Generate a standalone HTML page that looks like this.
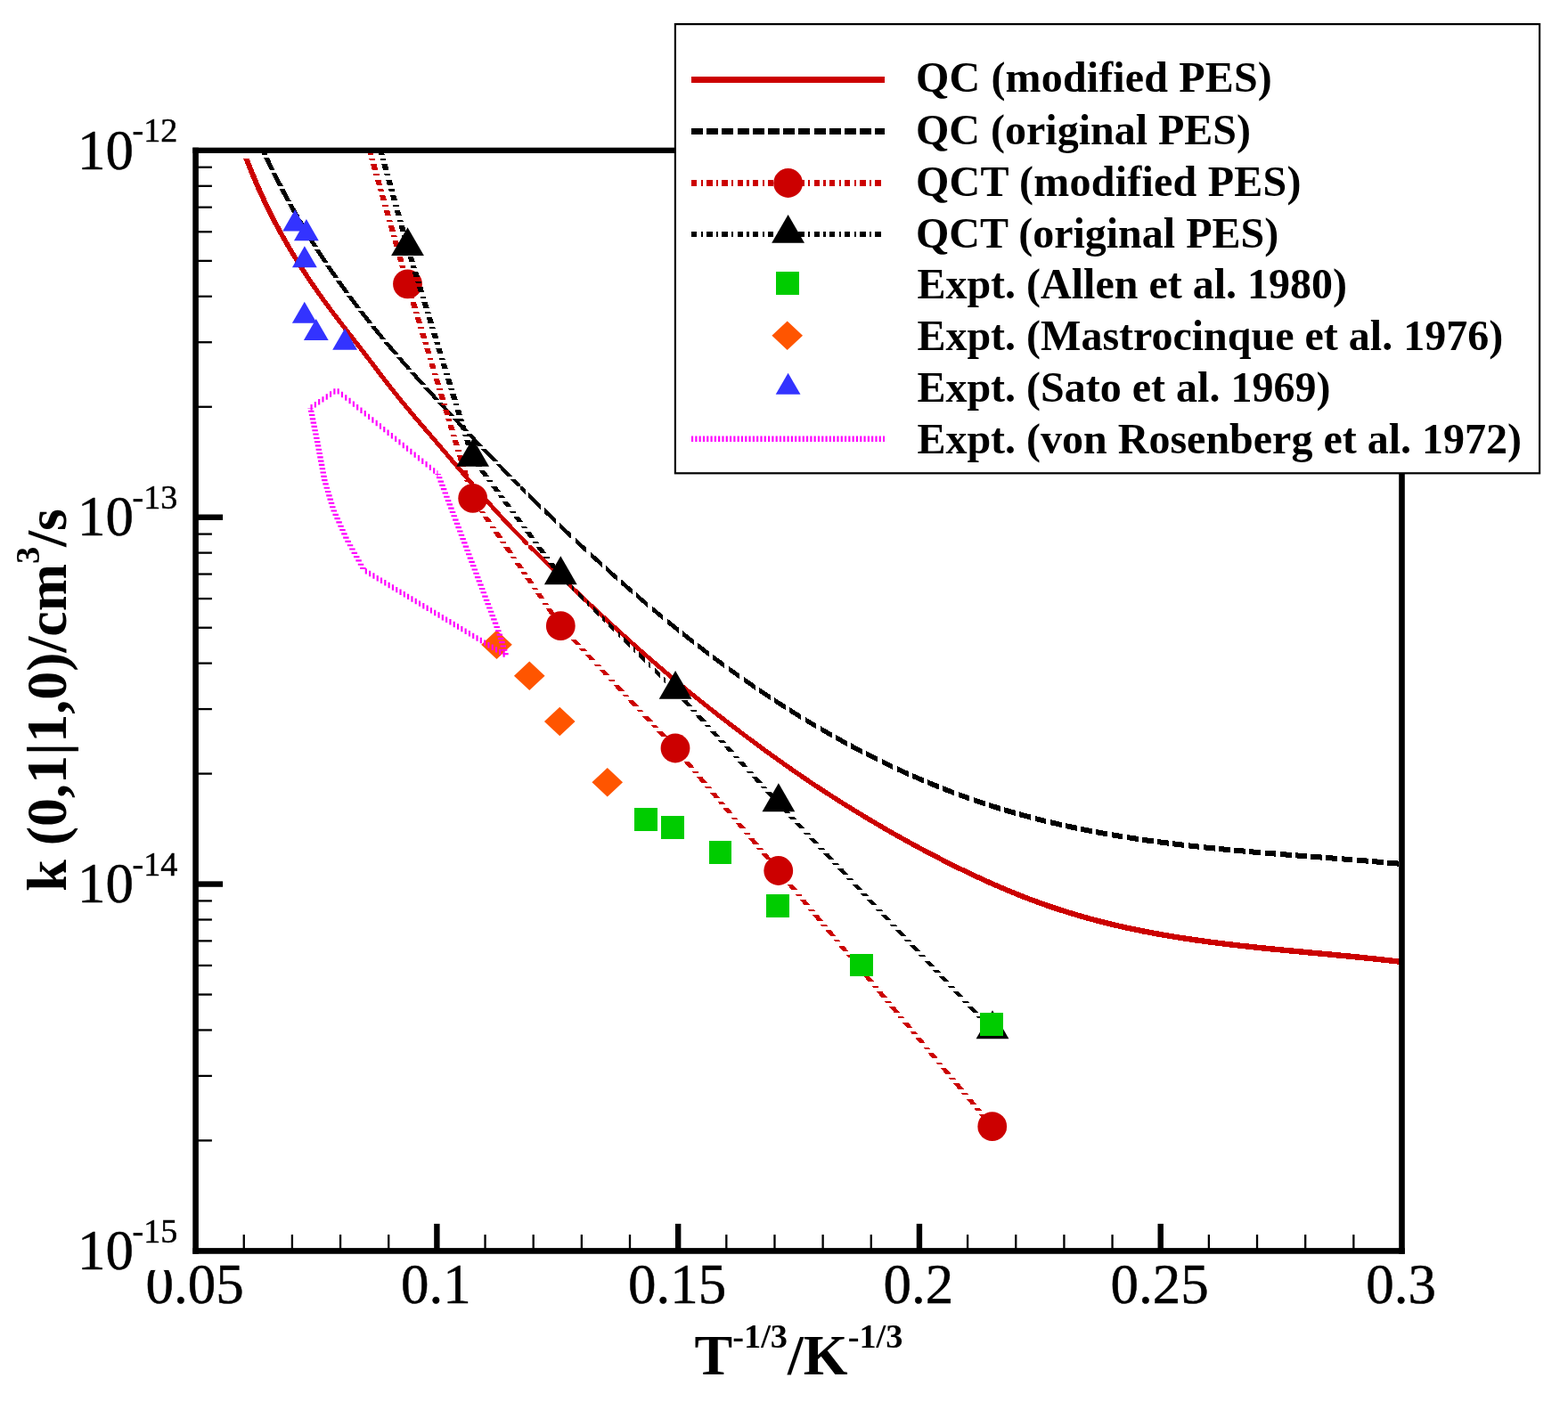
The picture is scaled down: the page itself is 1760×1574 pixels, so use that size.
<!DOCTYPE html>
<html lang="en">
<head>
<meta charset="utf-8">
<title>k (0,1|1,0) rate coefficients</title>
<style>
html,body{margin:0;padding:0;background:#fff;}
body{width:1760px;height:1574px;overflow:hidden;}
svg{display:block;}
text{white-space:pre;}
</style>
</head>
<body>
<svg width="1760" height="1574" viewBox="0 0 1760 1574" role="img" aria-label="Rate coefficient k(0,1|1,0) versus inverse cube root of temperature">
<defs><clipPath id="plotclip"><rect x="219.6" y="168.9" width="1353.9" height="1235.5"/></clipPath></defs>
<rect width="1760" height="1574" fill="#ffffff"/>
<g shape-rendering="crispEdges">
<path d="M273.02,177.53L278.04,190.26L284.5,190.26L279.48,177.53ZM278.04,190.26L283.29,202.89L289.75,202.89L284.5,190.26ZM283.29,202.89L288.78,215.42L295.24,215.42L289.75,202.89ZM288.78,215.42L294.54,227.83L301,227.83L295.24,215.42ZM294.54,227.83L300.57,240.12L307.03,240.12L301,227.83ZM300.57,240.12L306.88,252.29L313.33,252.29L307.03,240.12ZM306.88,252.29L313.44,264.33L319.9,264.33L313.33,252.29ZM313.44,264.33L320.28,276.26L326.74,276.26L319.9,264.33ZM320.28,276.26L327.38,288.08L333.83,288.08L326.74,276.26ZM327.38,288.08L334.69,299.77L341.14,299.77L333.83,288.08ZM334.69,299.77L342.21,311.33L348.67,311.33L341.14,299.77ZM342.21,311.33L349.96,322.76L356.42,322.76L348.67,311.33ZM349.96,322.76L357.94,334.06L364.39,334.06L356.42,322.76ZM357.94,334.06L366.09,345.24L372.55,345.24L364.39,334.06ZM366.09,345.24L374.44,356.32L380.89,356.32L372.55,345.24ZM374.44,356.32L382.94,367.34L389.39,367.34L380.89,356.32ZM382.94,367.34L391.51,378.35L397.97,378.35L389.39,367.34ZM391.51,378.35L400.13,389.4L406.59,389.4L397.97,378.35ZM400.13,389.4L408.73,400.52L415.19,400.52L406.59,389.4ZM408.73,400.52L417.25,411.7L423.71,411.7L415.19,400.52ZM417.25,411.7L425.72,422.83L432.18,422.83L423.71,411.7ZM425.72,422.83L434.22,433.84L440.68,433.84L432.18,422.83ZM434.22,433.84L442.84,444.68L449.3,444.68L440.68,433.84ZM442.84,444.68L451.64,455.42L458.1,455.42L449.3,444.68ZM451.64,455.42L460.59,466.07L467.05,466.07L458.1,455.42ZM460.59,466.07L469.64,476.68L476.1,476.68L467.05,466.07ZM469.64,476.68L478.76,487.27L485.22,487.27L476.1,476.68ZM478.76,487.27L487.9,497.89L494.36,497.89L485.22,487.27ZM487.9,497.89L497.02,508.55L503.48,508.55L494.36,497.89ZM497.02,508.55L506.1,519.21L512.55,519.21L503.48,508.55ZM506.1,519.21L515.18,529.86L521.63,529.86L512.55,519.21ZM515.18,529.86L524.28,540.47L530.74,540.47L521.63,529.86ZM524.28,540.47L533.41,551.03L539.87,551.03L530.74,540.47ZM533.41,551.03L542.6,561.52L549.05,561.52L539.87,551.03ZM542.6,561.52L551.87,571.91L558.32,571.91L549.05,561.52ZM551.87,571.91L561.25,582.18L567.7,582.18L558.32,571.91ZM561.25,582.18L570.75,592.31L577.2,592.31L567.7,582.18ZM570.75,592.31L580.39,602.31L586.85,602.31L577.2,592.31ZM580.39,602.31L590.18,612.21L596.63,612.21L586.85,602.31ZM593.41,608.99L603.3,618.8L603.3,625.25L593.41,615.44ZM603.3,618.8L613.28,628.56L613.28,635.01L603.3,625.25ZM613.28,628.56L623.32,638.29L623.32,644.75L613.28,635.01ZM623.32,638.29L633.38,647.99L633.38,654.44L623.32,644.75ZM633.38,647.99L643.48,657.64L643.48,664.1L633.38,654.44ZM643.48,657.64L653.62,667.26L653.62,673.72L643.48,664.1ZM653.62,667.26L663.79,676.85L663.79,683.3L653.62,673.72ZM663.79,676.85L674,686.38L674,692.83L663.79,683.3ZM674,686.38L684.26,695.86L684.26,702.31L674,692.83ZM684.26,695.86L694.57,705.28L694.57,711.74L684.26,702.31ZM694.57,705.28L704.92,714.64L704.92,721.1L694.57,711.74ZM704.92,714.64L715.34,723.94L715.34,730.39L704.92,721.1ZM715.34,723.94L725.81,733.18L725.81,739.63L715.34,730.39ZM725.81,733.18L736.34,742.33L736.34,748.78L725.81,739.63ZM736.34,742.33L746.94,751.41L746.94,757.87L736.34,748.78ZM746.94,751.41L757.61,760.4L757.61,766.86L746.94,757.87ZM757.61,760.4L768.35,769.3L768.35,775.75L757.61,766.86ZM768.35,769.3L779.16,778.13L779.16,784.59L768.35,775.75ZM779.16,778.13L790.05,786.88L790.05,793.33L779.16,784.59ZM790.05,786.88L800.99,795.53L800.99,801.99L790.05,793.33ZM800.99,795.53L812.01,804.12L812.01,810.57L800.99,801.99ZM812.01,804.12L823.08,812.62L823.08,819.08L812.01,810.57ZM823.08,812.62L834.21,821.05L834.21,827.5L823.08,819.08ZM834.21,821.05L845.39,829.41L845.39,835.87L834.21,827.5ZM845.39,829.41L856.63,837.7L856.63,844.15L845.39,835.87ZM856.63,837.7L867.93,845.9L867.93,852.36L856.63,844.15ZM867.93,845.9L879.3,854.01L879.3,860.47L867.93,852.36ZM879.3,854.01L890.73,862.02L890.73,868.48L879.3,860.47ZM890.73,862.02L902.22,869.93L902.22,876.38L890.73,868.48ZM902.22,869.93L913.8,877.73L913.8,884.18L902.22,876.38ZM913.8,877.73L925.45,885.41L925.45,891.87L913.8,884.18ZM925.45,885.41L937.17,893L937.17,899.45L925.45,891.87ZM937.17,893L948.96,900.45L948.96,906.9L937.17,899.45ZM948.96,900.45L960.83,907.8L960.83,914.25L948.96,906.9ZM960.83,907.8L972.76,915.04L972.76,921.5L960.83,914.25ZM972.76,915.04L984.77,922.16L984.77,928.62L972.76,921.5ZM984.77,922.16L996.84,929.17L996.84,935.62L984.77,928.62ZM996.84,929.17L1008.99,936.06L1008.99,942.51L996.84,935.62ZM1008.99,936.06L1021.2,942.83L1021.2,949.28L1008.99,942.51ZM1021.2,942.83L1033.47,949.49L1033.47,955.94L1021.2,949.28ZM1033.47,949.49L1045.82,956.01L1045.82,962.47L1033.47,955.94ZM1045.82,956.01L1058.22,962.42L1058.22,968.88L1045.82,962.47ZM1058.22,962.42L1070.69,968.7L1070.69,975.15L1058.22,968.88ZM1070.69,968.7L1083.23,974.85L1083.23,981.3L1070.69,975.15ZM1083.23,974.85L1095.84,980.82L1095.84,987.27L1083.23,981.3ZM1095.84,980.82L1108.53,986.63L1108.53,993.09L1095.84,987.27ZM1108.53,986.63L1121.3,992.26L1121.3,998.72L1108.53,993.09ZM1121.3,992.26L1134.15,997.68L1134.15,1004.13L1121.3,998.72ZM1134.15,997.68L1147.09,1002.9L1147.09,1009.36L1134.15,1004.13ZM1147.09,1002.9L1160.12,1007.88L1160.12,1014.34L1147.09,1009.36ZM1160.12,1007.88L1173.25,1012.62L1173.25,1019.08L1160.12,1014.34ZM1173.25,1012.62L1186.46,1017.11L1186.46,1023.56L1173.25,1019.08ZM1186.46,1017.11L1199.76,1021.34L1199.76,1027.79L1186.46,1023.56ZM1199.76,1021.34L1213.14,1025.34L1213.14,1031.78L1199.76,1027.79ZM1213.14,1025.34L1226.59,1029.09L1226.59,1035.53L1213.14,1031.78ZM1226.59,1029.09L1240.11,1032.6L1240.11,1039.04L1226.59,1035.53ZM1240.11,1032.6L1253.69,1035.88L1253.69,1042.32L1240.11,1039.04ZM1253.69,1035.88L1267.32,1038.95L1267.32,1045.39L1253.69,1042.32ZM1267.32,1038.95L1281.01,1041.79L1281.01,1048.23L1267.32,1045.39ZM1281.01,1041.79L1294.73,1044.44L1294.73,1050.88L1281.01,1048.23ZM1294.73,1044.44L1308.5,1046.89L1308.5,1053.34L1294.73,1050.88ZM1308.5,1046.89L1322.3,1049.18L1322.3,1055.62L1308.5,1053.34ZM1322.3,1049.18L1336.12,1051.3L1336.12,1057.74L1322.3,1055.62ZM1336.12,1051.3L1349.97,1053.27L1349.97,1059.71L1336.12,1057.74ZM1349.97,1053.27L1363.84,1055.1L1363.84,1061.54L1349.97,1059.71ZM1363.84,1055.1L1377.73,1056.81L1377.73,1063.25L1363.84,1061.54ZM1377.73,1056.81L1391.63,1058.42L1391.63,1064.87L1377.73,1063.25ZM1391.63,1058.42L1405.55,1059.94L1405.55,1066.38L1391.63,1064.87ZM1405.55,1059.94L1419.47,1061.38L1419.47,1067.82L1405.55,1066.38ZM1419.47,1061.38L1433.4,1062.76L1433.4,1069.2L1419.47,1067.82ZM1433.4,1062.76L1447.33,1064.1L1447.33,1070.54L1433.4,1069.2ZM1447.33,1064.1L1461.27,1065.39L1461.27,1071.84L1447.33,1070.54ZM1461.27,1065.39L1475.21,1066.7L1475.21,1073.14L1461.27,1071.84ZM1475.21,1066.7L1489.15,1067.99L1489.15,1074.43L1475.21,1073.14ZM1489.15,1067.99L1503.09,1069.31L1503.09,1075.75L1489.15,1074.43ZM1503.09,1069.31L1517.03,1070.64L1517.03,1077.09L1503.09,1075.75ZM1517.03,1070.64L1530.96,1072.05L1530.96,1078.49L1517.03,1077.09ZM1530.96,1072.05L1544.89,1073.5L1544.89,1079.94L1530.96,1078.49ZM1544.89,1073.5L1558.81,1075.04L1558.81,1081.48L1544.89,1079.94ZM1558.81,1075.04L1572.72,1076.67L1572.72,1083.12L1558.81,1081.48ZM1572.72,1076.67L1573.5,1076.77L1573.5,1083.21L1572.72,1083.12Z" fill="#cc0000" clip-path="url(#plotclip)"/>
<path d="M287.88,160L294.6,173.97L300.4,173.97L293.68,160ZM294.6,173.97L294.7,174.19L300.51,174.19L300.4,173.97ZM296.15,177.2L300.59,186.42L306.39,186.42L301.96,177.2ZM300.59,186.42L303.06,191.39L308.87,191.39L306.39,186.42ZM304.56,194.4L306.75,198.79L312.55,198.79L310.37,194.4ZM306.75,198.79L311.8,208.59L317.61,208.59L312.55,198.79ZM313.36,211.6L319.57,223.25L325.37,223.25L319.17,211.6ZM319.57,223.25L320.97,225.79L326.77,225.79L325.37,223.25ZM322.63,228.8L326.25,235.35L332.05,235.35L328.44,228.8ZM326.25,235.35L330.61,242.99L336.42,242.99L332.05,235.35ZM332.33,246L333.1,247.34L338.9,247.34L338.14,246ZM333.1,247.34L340.14,259.23L345.94,259.23L338.9,247.34ZM340.14,259.23L340.73,260.19L346.53,260.19L345.94,259.23ZM342.57,263.2L347.36,271.01L353.16,271.01L348.38,263.2ZM347.36,271.01L351.41,277.39L357.22,277.39L353.16,271.01ZM353.32,280.4L354.78,282.69L360.58,282.69L359.13,280.4ZM354.78,282.69L362.37,294.25L368.17,294.25L360.58,282.69ZM362.37,294.25L362.6,294.59L368.4,294.59L368.17,294.25ZM364.65,297.6L370.15,305.69L375.95,305.69L370.45,297.6ZM370.15,305.69L374.43,311.79L380.23,311.79L375.95,305.69ZM376.54,314.8L378.11,317.03L383.91,317.03L382.35,314.8ZM378.11,317.03L386.24,328.26L392.04,328.26L383.91,317.03ZM386.24,328.26L386.78,328.99L392.59,328.99L392.04,328.26ZM389.02,332L394.53,339.39L400.33,339.39L394.83,332ZM394.53,339.39L399.73,346.19L405.54,346.19L400.33,339.39ZM402.04,349.2L402.96,350.4L408.76,350.4L407.84,349.2ZM402.96,350.4L411.55,361.32L417.35,361.32L408.76,350.4ZM411.55,361.32L413.22,363.39L419.02,363.39L417.35,361.32ZM415.65,366.4L420.27,372.13L426.07,372.13L421.45,366.4ZM420.27,372.13L427.27,380.59L433.07,380.59L426.07,372.13ZM429.77,383.6L438.11,393.46L443.91,393.46L435.58,383.6ZM438.11,393.46L441.85,397.79L447.65,397.79L443.91,393.46ZM444.44,400.8L447.21,404L453.01,404L450.25,400.8ZM447.21,404L456.41,414.45L462.21,414.45L453.01,404ZM456.41,414.45L456.89,414.99L462.7,414.99L462.21,414.45ZM459.59,418L465.71,424.84L471.51,424.84L465.39,418ZM465.71,424.84L472.39,432.19L478.19,432.19L471.51,424.84ZM475.12,435.2L484.53,445.44L490.33,445.44L480.93,435.2ZM484.53,445.44L488.18,449.39L493.99,449.39L490.33,445.44ZM490.97,452.4L494.02,455.69L499.82,455.69L496.78,452.4ZM494.02,455.69L503.56,465.91L509.36,465.91L499.82,455.69ZM503.56,465.91L504.2,466.59L510,466.59L509.36,465.91ZM507.02,469.6L513.12,476.1L518.92,476.1L512.82,469.6ZM513.12,476.1L520.39,483.79L526.2,483.79L518.92,476.1ZM523.24,486.8L532.36,496.37L538.16,496.37L529.05,486.8ZM532.36,496.37L536.79,500.99L542.6,500.99L538.16,496.37ZM539.68,504L542.04,506.45L547.84,506.45L545.49,504ZM542.04,506.45L551.75,516.49L557.55,516.49L547.84,506.45ZM551.75,516.49L553.41,518.19L559.21,518.19L557.55,516.49ZM556.34,521.2L561.51,526.49L567.31,526.49L562.15,521.2ZM561.51,526.49L570.26,535.39L576.07,535.39L567.31,526.49ZM573.24,538.4L581.15,546.36L586.95,546.36L579.05,538.4ZM584.05,543.46L590.28,549.67L590.28,555.48L584.05,549.26ZM593.29,552.68L593.93,553.32L593.93,559.12L593.29,558.48Z" fill="#000000" clip-path="url(#plotclip)"/>
<path d="M593.93,553.17L603.87,562.99L603.87,569.09L593.93,559.27ZM603.87,562.99L606.83,565.89L606.83,571.99L603.87,569.09ZM611.13,570.1L613.85,572.76L613.85,578.86L611.13,576.2ZM613.85,572.76L623.88,582.48L623.88,588.58L613.85,578.86ZM623.88,582.48L624.03,582.62L624.03,588.72L623.88,588.58ZM628.33,586.74L633.96,592.14L633.96,598.24L628.33,592.84ZM633.96,592.14L641.23,599.04L641.23,605.14L633.96,598.24ZM645.53,603.1L654.28,611.3L654.28,617.4L645.53,609.2ZM654.28,611.3L658.43,615.14L658.43,621.24L654.28,617.4ZM662.73,619.12L664.52,620.78L664.52,626.88L662.73,625.22ZM664.52,620.78L674.82,630.21L674.82,636.31L664.52,626.88ZM674.82,630.21L675.63,630.94L675.63,637.04L674.82,636.31ZM679.93,634.82L685.18,639.56L685.18,645.66L679.93,640.92ZM685.18,639.56L692.83,646.38L692.83,652.48L685.18,645.66ZM697.13,650.19L706.08,658.06L706.08,664.16L697.13,656.29ZM706.08,658.06L710.03,661.48L710.03,667.58L706.08,664.16ZM714.33,665.21L716.63,667.2L716.63,673.3L714.33,671.31ZM716.63,667.2L727.23,676.24L727.23,682.34L716.63,673.3ZM731.53,679.85L737.93,685.23L737.93,691.33L731.53,685.95ZM737.93,685.23L744.43,690.6L744.43,696.7L737.93,691.33ZM748.73,694.15L759.52,702.92L759.52,709.02L748.73,700.25ZM759.52,702.92L761.63,704.6L761.63,710.7L759.52,709.02ZM765.93,708.04L770.42,711.62L770.42,717.72L765.93,714.14ZM770.42,711.62L778.83,718.21L778.83,724.31L770.42,717.72ZM783.13,721.56L792.46,728.73L792.46,734.83L783.13,727.66ZM792.46,728.73L796.03,731.42L796.03,737.52L792.46,734.83ZM800.33,734.66L803.6,737.13L803.6,743.23L800.33,740.76ZM803.6,737.13L813.23,744.24L813.23,750.34L803.6,743.23ZM817.53,747.37L826.13,753.57L826.13,759.67L817.53,753.47ZM826.13,753.57L830.43,756.61L830.43,762.71L826.13,759.67ZM834.73,759.65L837.52,761.62L837.52,767.72L834.73,765.75ZM837.52,761.62L847.63,768.61L847.63,774.71L837.52,767.72ZM851.93,771.53L860.56,777.35L860.56,783.45L851.93,777.63ZM860.56,777.35L864.83,780.16L864.83,786.26L860.56,783.45ZM869.13,783L872.2,785.02L872.2,791.12L869.13,789.1ZM872.2,785.02L882.03,791.33L882.03,797.43L872.2,791.12ZM886.33,794.06L895.76,799.97L895.76,806.07L886.33,800.16ZM895.76,799.97L899.23,802.09L899.23,808.19L895.76,806.07ZM903.53,804.71L907.67,807.23L907.67,813.33L903.53,810.81ZM907.67,807.23L916.43,812.43L916.43,818.53L907.67,813.33ZM920.73,814.96L931.75,821.32L931.75,827.42L920.73,821.06ZM931.75,821.32L933.63,822.37L933.63,828.47L931.75,827.42ZM937.93,824.78L943.92,828.13L943.92,834.23L937.93,830.88ZM943.92,828.13L950.83,831.88L950.83,837.98L943.92,834.23ZM955.13,834.22L956.18,834.79L956.18,840.89L955.13,840.32ZM956.18,834.79L968.03,841.03L968.03,847.13L956.18,840.89ZM972.33,843.23L980.96,847.62L980.96,853.72L972.33,849.33ZM980.96,847.62L985.23,849.72L985.23,855.82L980.96,853.72ZM989.53,851.84L993.48,853.78L993.48,859.88L989.53,857.94ZM993.48,853.78L1002.43,858.03L1002.43,864.13L993.48,859.88ZM1006.73,860.06L1018.77,865.56L1018.77,871.66L1006.73,866.16ZM1018.77,865.56L1019.63,865.94L1019.63,872.04L1018.77,871.66ZM1023.93,867.83L1031.55,871.18L1031.55,877.28L1023.93,873.93ZM1031.55,871.18L1036.83,873.41L1036.83,879.51L1031.55,877.28ZM1041.13,875.23L1044.4,876.61L1044.4,882.71L1041.13,881.33ZM1044.4,876.61L1054.03,880.5L1054.03,886.6L1044.4,882.71ZM1058.33,882.22L1070.36,886.88L1070.36,892.98L1058.33,888.32ZM1070.36,886.88L1071.23,887.2L1071.23,893.3L1070.36,892.98ZM1075.53,888.79L1083.45,891.71L1083.45,897.81L1075.53,894.89ZM1083.45,891.71L1088.43,893.46L1088.43,899.56L1083.45,897.81ZM1092.73,894.96L1096.63,896.33L1096.63,902.43L1092.73,901.06ZM1096.63,896.33L1105.63,899.33L1105.63,905.43L1096.63,902.43ZM1109.93,900.76L1122.83,904.83L1122.83,910.93L1109.93,906.86ZM1127.13,906.11L1136.58,908.92L1136.58,915.02L1127.13,912.21ZM1136.58,908.92L1140.03,909.89L1140.03,915.99L1136.58,915.02ZM1144.33,911.1L1150.03,912.7L1150.03,918.8L1144.33,917.2ZM1150.03,912.7L1157.23,914.6L1157.23,920.7L1150.03,918.8ZM1161.53,915.74L1163.53,916.27L1163.53,922.37L1161.53,921.84ZM1163.53,916.27L1174.43,918.99L1174.43,925.09L1163.53,922.37ZM1178.73,920.03L1190.7,922.84L1190.7,928.94L1178.73,926.13ZM1190.7,922.84L1191.63,923.04L1191.63,929.14L1190.7,928.94ZM1195.93,923.99L1204.36,925.84L1204.36,931.94L1195.93,930.09ZM1204.36,925.84L1208.83,926.76L1208.83,932.86L1204.36,931.94ZM1213.13,927.65L1218.05,928.66L1218.05,934.76L1213.13,933.75ZM1218.05,928.66L1226.03,930.2L1226.03,936.3L1218.05,934.76ZM1230.33,931.03L1231.78,931.31L1231.78,937.41L1230.33,937.13ZM1231.78,931.31L1243.23,933.37L1243.23,939.47L1231.78,937.41ZM1247.53,934.13L1259.33,936.12L1259.33,942.22L1247.53,940.23ZM1259.33,936.12L1260.43,936.29L1260.43,942.39L1259.33,942.22ZM1264.73,936.97L1273.15,938.3L1273.15,944.4L1264.73,943.07ZM1273.15,938.3L1277.63,938.96L1277.63,945.06L1273.15,944.4ZM1281.93,939.6L1286.99,940.35L1286.99,946.45L1281.93,945.7ZM1286.99,940.35L1294.83,941.43L1294.83,947.53L1286.99,946.45ZM1299.13,942.02L1300.85,942.26L1300.85,948.36L1299.13,948.12ZM1300.85,942.26L1312.03,943.69L1312.03,949.79L1300.85,948.36ZM1316.33,944.23L1328.62,945.72L1328.62,951.82L1316.33,950.33ZM1328.62,945.72L1329.23,945.79L1329.23,951.89L1328.62,951.82ZM1333.53,946.27L1342.53,947.29L1342.53,953.39L1333.53,952.37ZM1342.53,947.29L1346.43,947.7L1346.43,953.8L1342.53,953.39ZM1350.73,948.16L1356.44,948.77L1356.44,954.87L1350.73,954.26ZM1356.44,948.77L1363.63,949.49L1363.63,955.59L1356.44,954.87ZM1367.93,949.92L1370.37,950.16L1370.37,956.26L1367.93,956.02ZM1370.37,950.16L1380.83,951.15L1380.83,957.25L1370.37,956.26ZM1385.13,951.55L1398.03,952.71L1398.03,958.81L1385.13,957.65ZM1402.33,953.08L1412.19,953.92L1412.19,960.02L1402.33,959.18ZM1412.19,953.92L1415.23,954.17L1415.23,960.27L1412.19,960.02ZM1419.53,954.53L1426.14,955.07L1426.14,961.17L1419.53,960.63ZM1426.14,955.07L1432.43,955.57L1432.43,961.67L1426.14,961.17ZM1436.73,955.92L1440.1,956.19L1440.1,962.29L1436.73,962.02ZM1440.1,956.19L1449.63,956.93L1449.63,963.03L1440.1,962.29ZM1453.93,957.27L1454.05,957.28L1454.05,963.38L1453.93,963.37ZM1454.05,957.28L1466.83,958.26L1466.83,964.36L1454.05,963.38ZM1471.13,958.59L1481.97,959.41L1481.97,965.51L1471.13,964.69ZM1481.97,959.41L1484.03,959.57L1484.03,965.67L1481.97,965.51ZM1488.33,959.9L1495.93,960.48L1495.93,966.58L1488.33,966ZM1495.93,960.48L1501.23,960.89L1501.23,966.99L1495.93,966.58ZM1505.53,961.22L1509.89,961.56L1509.89,967.66L1505.53,967.32ZM1509.89,961.56L1518.43,962.24L1518.43,968.34L1509.89,967.66ZM1522.73,962.58L1523.85,962.67L1523.85,968.77L1522.73,968.68ZM1523.85,962.67L1535.63,963.63L1535.63,969.73L1523.85,968.77ZM1539.93,963.99L1551.75,964.99L1551.75,971.09L1539.93,970.09ZM1551.75,964.99L1552.83,965.09L1552.83,971.19L1551.75,971.09ZM1557.13,965.47L1565.7,966.23L1565.7,972.33L1557.13,971.57ZM1565.7,966.23L1570.03,966.62L1570.03,972.72L1565.7,972.33Z" fill="#000000" clip-path="url(#plotclip)"/>
<path d="M406.27,150L408.11,156.45L414.56,156.45L412.73,150ZM409.33,160.75L409.94,162.9L416.39,162.9L415.78,160.75ZM411.16,167.2L413,173.65L419.45,173.65L417.61,167.2ZM414.22,177.95L414.83,180.1L421.28,180.1L420.67,177.95ZM416.05,184.4L417.88,190.85L424.33,190.85L422.5,184.4ZM419.11,195.15L419.72,197.3L426.17,197.3L425.56,195.15ZM420.94,201.6L422.77,208.05L429.22,208.05L427.39,201.6ZM423.99,212.35L424.61,214.5L431.06,214.5L430.44,212.35ZM425.83,218.8L427.66,225.25L434.11,225.25L432.28,218.8ZM428.88,229.55L429.49,231.7L435.94,231.7L435.33,229.55ZM430.72,236L432.55,242.45L439,242.45L437.17,236ZM433.77,246.75L434.38,248.9L440.83,248.9L440.22,246.75ZM435.6,253.2L437.44,259.65L443.89,259.65L442.05,253.2ZM438.66,263.95L439.27,266.1L445.72,266.1L445.11,263.95ZM440.49,270.4L442.32,276.85L448.77,276.85L446.94,270.4ZM443.55,281.15L444.16,283.3L450.61,283.3L450,281.15ZM445.38,287.6L447.21,294.05L453.66,294.05L451.83,287.6ZM448.43,298.35L449.05,300.5L455.5,300.5L454.88,298.35ZM450.27,304.8L452.1,311.25L458.55,311.25L456.72,304.8ZM453.32,315.55L453.93,317.7L460.38,317.7L459.77,315.55ZM455.22,322L457.18,328.45L463.63,328.45L461.67,322ZM458.49,332.75L459.14,334.9L465.59,334.9L464.94,332.75ZM460.45,339.2L462.42,345.65L468.87,345.65L466.9,339.2ZM463.73,349.95L464.38,352.1L470.83,352.1L470.18,349.95ZM465.69,356.4L467.65,362.85L474.1,362.85L472.14,356.4ZM468.96,367.15L469.62,369.3L476.07,369.3L475.41,367.15ZM470.92,373.6L472.89,380.05L479.34,380.05L477.37,373.6ZM474.2,384.35L474.85,386.5L481.3,386.5L480.65,384.35ZM476.16,390.8L478.12,397.25L484.57,397.25L482.61,390.8ZM479.43,401.55L480.09,403.7L486.54,403.7L485.88,401.55ZM481.39,408L483.36,414.45L489.81,414.45L487.84,408ZM484.67,418.75L485.32,420.9L491.77,420.9L491.12,418.75ZM486.63,425.2L488.59,431.65L495.04,431.65L493.08,425.2ZM489.9,435.95L490.56,438.1L497.01,438.1L496.35,435.95ZM491.86,442.4L493.83,448.85L500.28,448.85L498.31,442.4ZM495.14,453.15L495.79,455.3L502.24,455.3L501.59,453.15ZM497.1,459.6L499.06,466.05L505.51,466.05L503.55,459.6ZM500.37,470.35L501.03,472.5L507.48,472.5L506.82,470.35ZM502.33,476.8L504.3,483.25L510.75,483.25L508.78,476.8ZM505.61,487.55L506.26,489.7L512.71,489.7L512.06,487.55ZM507.57,494L509.53,500.45L515.98,500.45L514.02,494ZM510.84,504.75L511.5,506.9L517.95,506.9L517.29,504.75ZM512.8,511.2L514.77,517.65L521.22,517.65L519.25,511.2ZM516.08,521.95L516.73,524.1L523.18,524.1L522.53,521.95ZM518.04,528.4L520,534.85L526.45,534.85L524.49,528.4ZM521.31,539.15L521.97,541.3L528.42,541.3L527.76,539.15ZM523.27,545.6L525.24,552.05L531.69,552.05L529.72,545.6ZM526.55,556.35L527.2,558.5L533.65,558.5L533,556.35ZM529.81,562.8L534.25,569.25L540.7,569.25L536.26,562.8ZM537.21,573.55L538.69,575.7L545.14,575.7L543.66,573.55ZM541.65,580L546.09,586.45L552.54,586.45L548.1,580ZM549.05,590.75L550.53,592.9L556.98,592.9L555.5,590.75ZM553.48,597.2L557.92,603.65L564.37,603.65L559.93,597.2ZM560.88,607.95L562.36,610.1L568.81,610.1L567.33,607.95ZM565.32,614.4L569.76,620.85L576.21,620.85L571.77,614.4ZM572.72,625.15L574.19,627.3L580.64,627.3L579.17,625.15ZM577.15,631.6L581.59,638.05L588.04,638.05L583.6,631.6ZM584.55,642.35L586.03,644.5L592.48,644.5L591,642.35ZM588.99,648.8L593.43,655.25L599.88,655.25L595.44,648.8ZM596.38,659.55L597.86,661.7L604.31,661.7L602.83,659.55ZM600.82,666L605.26,672.45L611.71,672.45L607.27,666ZM608.22,676.75L609.7,678.9L616.15,678.9L614.67,676.75ZM612.66,683.2L617.1,689.65L623.55,689.65L619.11,683.2ZM620.05,693.95L621.53,696.1L627.98,696.1L626.5,693.95ZM624.49,700.4L626.07,702.7L632.52,702.7L630.94,700.4ZM626.07,702.7L629.97,706.85L636.42,706.85L632.52,702.7ZM634,711.15L636.01,713.3L642.46,713.3L640.45,711.15ZM640.04,717.6L646.09,724.05L652.54,724.05L646.49,717.6ZM650.12,728.35L652.13,730.5L658.58,730.5L656.57,728.35ZM656.16,734.8L662.21,741.25L668.66,741.25L662.61,734.8ZM666.24,745.55L668.26,747.7L674.71,747.7L672.69,745.55ZM672.29,752L678.33,758.45L684.78,758.45L678.74,752ZM682.36,762.75L684.38,764.9L690.83,764.9L688.81,762.75ZM688.41,769.2L694.46,775.65L700.91,775.65L694.86,769.2ZM698.49,779.95L700.5,782.1L706.95,782.1L704.94,779.95ZM704.53,786.4L710.58,792.85L717.03,792.85L710.98,786.4ZM714.61,797.15L716.62,799.3L723.07,799.3L721.06,797.15ZM720.65,803.6L726.7,810.05L733.15,810.05L727.1,803.6ZM730.73,814.35L732.75,816.5L739.2,816.5L737.18,814.35ZM736.78,820.8L742.82,827.25L749.27,827.25L743.23,820.8ZM746.85,831.55L748.87,833.7L755.32,833.7L753.3,831.55ZM752.9,838L754.77,840L761.23,840L759.35,838ZM754.77,840L758.52,844.45L764.97,844.45L761.23,840ZM762.14,848.75L763.95,850.9L770.4,850.9L768.59,848.75ZM767.57,855.2L773,861.65L779.45,861.65L774.02,855.2ZM776.62,865.95L778.43,868.1L784.88,868.1L783.07,865.95ZM782.05,872.4L787.48,878.85L793.93,878.85L788.5,872.4ZM791.1,883.15L792.91,885.3L799.36,885.3L797.55,883.15ZM796.53,889.6L801.96,896.05L808.41,896.05L802.98,889.6ZM805.58,900.35L807.39,902.5L813.84,902.5L812.03,900.35ZM811.01,906.8L816.44,913.25L822.89,913.25L817.46,906.8ZM820.06,917.55L821.87,919.7L828.32,919.7L826.51,917.55ZM825.49,924L830.92,930.45L837.37,930.45L831.94,924ZM834.54,934.75L836.35,936.9L842.8,936.9L840.99,934.75ZM839.97,941.2L845.4,947.65L851.85,947.65L846.42,941.2ZM849.02,951.95L850.83,954.1L857.28,954.1L855.47,951.95ZM854.45,958.4L859.88,964.85L866.33,964.85L860.9,958.4ZM863.5,969.15L865.31,971.3L871.76,971.3L869.95,969.15ZM868.93,975.6L870.52,977.5L876.98,977.5L875.38,975.6ZM870.52,977.5L874.33,982.05L880.78,982.05L876.98,977.5ZM877.92,986.35L879.72,988.5L886.17,988.5L884.37,986.35ZM883.31,992.8L888.7,999.25L895.15,999.25L889.76,992.8ZM892.29,1003.55L894.09,1005.7L900.54,1005.7L898.74,1003.55ZM897.68,1010L903.07,1016.45L909.52,1016.45L904.13,1010ZM906.67,1020.75L908.46,1022.9L914.91,1022.9L913.12,1020.75ZM912.06,1027.2L917.45,1033.65L923.9,1033.65L918.51,1027.2ZM921.04,1037.95L922.84,1040.1L929.29,1040.1L927.49,1037.95ZM926.43,1044.4L931.82,1050.85L938.27,1050.85L932.88,1044.4ZM935.41,1055.15L937.21,1057.3L943.66,1057.3L941.86,1055.15ZM940.8,1061.6L946.19,1068.05L952.64,1068.05L947.25,1061.6ZM949.79,1072.35L951.58,1074.5L958.03,1074.5L956.24,1072.35ZM955.18,1078.8L960.57,1085.25L967.02,1085.25L961.63,1078.8ZM964.16,1089.55L965.96,1091.7L972.41,1091.7L970.61,1089.55ZM969.55,1096L974.94,1102.45L981.39,1102.45L976,1096ZM978.53,1106.75L980.33,1108.9L986.78,1108.9L984.98,1106.75ZM983.92,1113.2L989.31,1119.65L995.76,1119.65L990.37,1113.2ZM992.91,1123.95L994.7,1126.1L1001.15,1126.1L999.36,1123.95ZM998.3,1130.4L1003.69,1136.85L1010.14,1136.85L1004.75,1130.4ZM1007.28,1141.15L1009.08,1143.3L1015.53,1143.3L1013.73,1141.15ZM1012.67,1147.6L1018.06,1154.05L1024.51,1154.05L1019.12,1147.6ZM1021.65,1158.35L1023.45,1160.5L1029.9,1160.5L1028.1,1158.35ZM1027.04,1164.8L1032.43,1171.25L1038.88,1171.25L1033.49,1164.8ZM1036.03,1175.55L1037.82,1177.7L1044.27,1177.7L1042.48,1175.55ZM1041.42,1182L1046.81,1188.45L1053.26,1188.45L1047.87,1182ZM1050.4,1192.75L1052.2,1194.9L1058.65,1194.9L1056.85,1192.75ZM1055.79,1199.2L1061.18,1205.65L1067.63,1205.65L1062.24,1199.2ZM1064.77,1209.95L1066.57,1212.1L1073.02,1212.1L1071.22,1209.95ZM1070.16,1216.4L1075.55,1222.85L1082,1222.85L1076.61,1216.4ZM1079.15,1227.15L1080.94,1229.3L1087.39,1229.3L1085.6,1227.15ZM1084.54,1233.6L1089.93,1240.05L1096.38,1240.05L1090.99,1233.6ZM1093.52,1244.35L1095.32,1246.5L1101.77,1246.5L1099.97,1244.35ZM1098.91,1250.8L1104.3,1257.25L1110.75,1257.25L1105.36,1250.8ZM1107.89,1261.55L1109.69,1263.7L1116.14,1263.7L1114.34,1261.55Z" fill="#cc0000" clip-path="url(#plotclip)"/>
</g>
<circle cx="457.5" cy="318.9" r="16.4" fill="#cc0000"/>
<circle cx="530.7" cy="559.4" r="16.4" fill="#cc0000"/>
<circle cx="629.3" cy="702.7" r="16.4" fill="#cc0000"/>
<circle cx="758" cy="840" r="16.4" fill="#cc0000"/>
<circle cx="873.75" cy="977.5" r="16.4" fill="#cc0000"/>
<circle cx="1113.75" cy="1264.7" r="16.4" fill="#cc0000"/>
<g shape-rendering="crispEdges">
<path d="M418.67,150L420.47,156.45L426.92,156.45L425.12,150ZM421.67,160.75L422.27,162.9L428.72,162.9L428.12,160.75ZM423.47,167.2L425.27,173.65L431.72,173.65L429.92,167.2ZM426.47,177.95L427.07,180.1L433.52,180.1L432.92,177.95ZM428.26,184.4L430.06,190.85L436.51,190.85L434.71,184.4ZM431.26,195.15L431.86,197.3L438.31,197.3L437.71,195.15ZM433.06,201.6L434.86,208.05L441.31,208.05L439.51,201.6ZM436.06,212.35L436.66,214.5L443.11,214.5L442.51,212.35ZM437.85,218.8L439.65,225.25L446.1,225.25L444.3,218.8ZM440.85,229.55L441.45,231.7L447.9,231.7L447.3,229.55ZM442.65,236L444.45,242.45L450.9,242.45L449.1,236ZM445.65,246.75L446.25,248.9L452.7,248.9L452.1,246.75ZM447.44,253.2L449.24,259.65L455.69,259.65L453.89,253.2ZM450.44,263.95L451.04,266.1L457.49,266.1L456.89,263.95ZM452.24,270.4L454.04,276.85L460.49,276.85L458.69,270.4ZM455.34,281.15L456.01,283.3L462.46,283.3L461.79,281.15ZM457.33,287.6L459.33,294.05L465.78,294.05L463.78,287.6ZM460.66,298.35L461.32,300.5L467.77,300.5L467.11,298.35ZM462.65,304.8L464.64,311.25L471.09,311.25L469.1,304.8ZM465.97,315.55L466.64,317.7L473.09,317.7L472.42,315.55ZM467.97,322L469.96,328.45L476.41,328.45L474.42,322ZM471.29,332.75L471.95,334.9L478.4,334.9L477.74,332.75ZM473.28,339.2L475.27,345.65L481.72,345.65L479.73,339.2ZM476.6,349.95L477.27,352.1L483.72,352.1L483.05,349.95ZM478.6,356.4L480.59,362.85L487.04,362.85L485.05,356.4ZM481.92,367.15L482.58,369.3L489.03,369.3L488.37,367.15ZM483.91,373.6L485.91,380.05L492.36,380.05L490.36,373.6ZM487.23,384.35L487.9,386.5L494.35,386.5L493.68,384.35ZM489.23,390.8L491.22,397.25L497.67,397.25L495.68,390.8ZM492.55,401.55L493.21,403.7L499.66,403.7L499,401.55ZM494.54,408L496.54,414.45L502.99,414.45L500.99,408ZM497.87,418.75L498.53,420.9L504.98,420.9L504.32,418.75ZM499.86,425.2L501.85,431.65L508.3,431.65L506.31,425.2ZM503.18,435.95L503.85,438.1L510.3,438.1L509.63,435.95ZM505.17,442.4L507.17,448.85L513.62,448.85L511.62,442.4ZM508.5,453.15L509.16,455.3L515.61,455.3L514.95,453.15ZM510.49,459.6L512.48,466.05L518.93,466.05L516.94,459.6ZM513.81,470.35L514.48,472.5L520.93,472.5L520.26,470.35ZM515.81,476.8L517.8,483.25L524.25,483.25L522.26,476.8ZM519.13,487.55L519.79,489.7L526.24,489.7L525.58,487.55ZM521.12,494L523.11,500.45L529.56,500.45L527.57,494ZM524.44,504.75L525.11,506.9L531.56,506.9L530.89,504.75ZM526.44,511.2L527.42,514.4L533.88,514.4L532.89,511.2ZM527.42,514.4L529.85,517.65L536.3,517.65L533.88,514.4ZM533.05,521.95L534.65,524.1L541.1,524.1L539.5,521.95ZM537.86,528.4L542.66,534.85L549.11,534.85L544.31,528.4ZM545.87,539.15L547.47,541.3L553.92,541.3L552.32,539.15ZM550.67,545.6L555.48,552.05L561.93,552.05L557.12,545.6ZM558.68,556.35L560.28,558.5L566.73,558.5L565.13,556.35ZM563.49,562.8L568.29,569.25L574.74,569.25L569.94,562.8ZM571.5,573.55L573.1,575.7L579.55,575.7L577.95,573.55ZM576.3,580L581.11,586.45L587.56,586.45L582.75,580ZM584.31,590.75L585.91,592.9L592.36,592.9L590.76,590.75ZM589.12,597.2L593.92,603.65L600.37,603.65L595.57,597.2ZM597.13,607.95L598.73,610.1L605.18,610.1L603.58,607.95ZM601.93,614.4L606.74,620.85L613.19,620.85L608.38,614.4ZM609.94,625.15L611.55,627.3L618,627.3L616.39,625.15ZM614.75,631.6L619.56,638.05L626.01,638.05L621.2,631.6ZM622.76,642.35L624.36,644.5L630.81,644.5L629.21,642.35ZM631.3,645.57L637.75,652.01L637.75,658.46L631.3,652.02ZM642.05,656.31L644.2,658.45L644.2,664.9L642.05,662.76ZM648.5,662.75L654.95,669.19L654.95,675.64L648.5,669.2ZM659.25,673.48L661.4,675.63L661.4,682.08L659.25,679.93ZM665.7,679.92L672.15,686.36L672.15,692.81L665.7,686.37ZM676.45,690.65L678.6,692.8L678.6,699.25L676.45,697.1ZM682.9,697.09L689.35,703.53L689.35,709.98L682.9,703.54ZM693.65,707.83L695.8,709.97L695.8,716.42L693.65,714.28ZM700.1,714.27L706.55,720.71L706.55,727.16L700.1,720.72ZM710.85,725L713,727.15L713,733.6L710.85,731.45ZM717.3,731.44L723.75,737.88L723.75,744.33L717.3,737.89ZM728.05,742.17L730.2,744.32L730.2,750.77L728.05,748.62ZM734.5,748.61L740.95,755.05L740.95,761.5L734.5,755.06ZM745.25,759.34L747.4,761.49L747.4,767.94L745.25,765.79ZM751.7,765.78L758.1,772.18L758.1,778.63L751.7,772.23ZM754.88,775.4L754.92,775.45L761.37,775.45L761.33,775.4ZM758.86,779.75L760.83,781.9L767.28,781.9L765.31,779.75ZM764.77,786.2L770.68,792.65L777.13,792.65L771.22,786.2ZM774.62,796.95L776.59,799.1L783.04,799.1L781.07,796.95ZM780.53,803.4L786.44,809.85L792.89,809.85L786.98,803.4ZM790.38,814.15L792.35,816.3L798.8,816.3L796.83,814.15ZM796.28,820.6L802.19,827.05L808.64,827.05L802.73,820.6ZM806.13,831.35L808.1,833.5L814.55,833.5L812.58,831.35ZM812.04,837.8L817.95,844.25L824.4,844.25L818.49,837.8ZM821.89,848.55L823.86,850.7L830.31,850.7L828.34,848.55ZM827.8,855L833.71,861.45L840.16,861.45L834.25,855ZM837.65,865.75L839.62,867.9L846.07,867.9L844.1,865.75ZM843.56,872.2L849.47,878.65L855.92,878.65L850.01,872.2ZM853.41,882.95L855.38,885.1L861.83,885.1L859.86,882.95ZM859.31,889.4L865.22,895.85L871.67,895.85L865.76,889.4ZM869.16,900.15L870.67,901.8L877.12,901.8L875.61,900.15ZM870.67,901.8L871.15,902.3L877.6,902.3L877.12,901.8ZM875.19,906.6L881.27,913.05L887.72,913.05L881.64,906.6ZM885.32,917.35L887.34,919.5L893.79,919.5L891.77,917.35ZM891.39,923.8L897.46,930.25L903.91,930.25L897.84,923.8ZM901.51,934.55L903.54,936.7L909.99,936.7L907.96,934.55ZM907.58,941L913.66,947.45L920.11,947.45L914.03,941ZM917.71,951.75L919.73,953.9L926.18,953.9L924.16,951.75ZM923.78,958.2L929.85,964.65L936.3,964.65L930.23,958.2ZM933.9,968.95L935.93,971.1L942.38,971.1L940.35,968.95ZM939.97,975.4L946.05,981.85L952.5,981.85L946.42,975.4ZM950.1,986.15L952.12,988.3L958.57,988.3L956.55,986.15ZM956.17,992.6L962.24,999.05L968.69,999.05L962.62,992.6ZM966.29,1003.35L968.32,1005.5L974.77,1005.5L972.74,1003.35ZM972.36,1009.8L978.44,1016.25L984.89,1016.25L978.81,1009.8ZM982.49,1020.55L984.51,1022.7L990.96,1022.7L988.94,1020.55ZM988.56,1027L994.63,1033.45L1001.08,1033.45L995.01,1027ZM998.68,1037.75L1000.71,1039.9L1007.16,1039.9L1005.13,1037.75ZM1004.75,1044.2L1010.83,1050.65L1017.28,1050.65L1011.2,1044.2ZM1014.88,1054.95L1016.9,1057.1L1023.35,1057.1L1021.33,1054.95ZM1020.95,1061.4L1027.02,1067.85L1033.47,1067.85L1027.4,1061.4ZM1031.07,1072.15L1033.1,1074.3L1039.55,1074.3L1037.52,1072.15ZM1037.14,1078.6L1043.22,1085.05L1049.67,1085.05L1043.59,1078.6ZM1047.27,1089.35L1049.29,1091.5L1055.74,1091.5L1053.72,1089.35ZM1053.34,1095.8L1059.41,1102.25L1065.86,1102.25L1059.79,1095.8ZM1063.46,1106.55L1065.49,1108.7L1071.94,1108.7L1069.91,1106.55ZM1069.53,1113L1075.61,1119.45L1082.06,1119.45L1075.98,1113ZM1079.66,1123.75L1081.68,1125.9L1088.13,1125.9L1086.11,1123.75ZM1085.73,1130.2L1091.8,1136.65L1098.25,1136.65L1092.18,1130.2ZM1095.85,1140.95L1097.88,1143.1L1104.33,1143.1L1102.3,1140.95ZM1101.92,1147.4L1108,1153.85L1114.45,1153.85L1108.37,1147.4Z" fill="#000000" clip-path="url(#plotclip)"/>
</g>
<polygon points="457.5,255.25 475.9,287.12 439.1,287.12" fill="#000000"/>
<polygon points="530.65,491.95 549.05,523.82 512.25,523.82" fill="#000000"/>
<polygon points="629.3,624.35 647.7,656.22 610.9,656.22" fill="#000000"/>
<polygon points="758.1,752.95 776.5,784.82 739.7,784.82" fill="#000000"/>
<polygon points="873.9,879.35 892.3,911.22 855.5,911.22" fill="#000000"/>
<polygon points="1114,1134.35 1132.4,1166.22 1095.6,1166.22" fill="#000000"/>
<g shape-rendering="crispEdges">
<rect x="711.7" y="907.35" width="25.8" height="25.8" fill="#00cc00"/>
<rect x="741.7" y="915.85" width="25.8" height="25.8" fill="#00cc00"/>
<rect x="795.5" y="944.1" width="25.8" height="25.8" fill="#00cc00"/>
<rect x="860.1" y="1004.1" width="25.8" height="25.8" fill="#00cc00"/>
<rect x="954.2" y="1070.6" width="25.8" height="25.8" fill="#00cc00"/>
<rect x="1100" y="1136.85" width="25.8" height="25.8" fill="#00cc00"/>
</g>
<polygon points="557.5,707.45 574.8,723.75 557.5,740.05 540.2,723.75" fill="#ff5500"/>
<polygon points="594.25,742.45 611.55,758.75 594.25,775.05 576.95,758.75" fill="#ff5500"/>
<polygon points="628.25,793.7 645.55,810 628.25,826.3 610.95,810" fill="#ff5500"/>
<polygon points="681.75,861.95 699.05,878.25 681.75,894.55 664.45,878.25" fill="#ff5500"/>
<polygon points="331.2,235.35 345.1,259.43 317.3,259.43" fill="#3333ff"/>
<polygon points="343.9,246.05 357.8,270.13 330,270.13" fill="#3333ff"/>
<polygon points="341.9,276.15 355.8,300.23 328,300.23" fill="#3333ff"/>
<polygon points="341.8,338.65 355.7,362.73 327.9,362.73" fill="#3333ff"/>
<polygon points="354.8,357.95 368.7,382.03 340.9,382.03" fill="#3333ff"/>
<polygon points="387.1,368.65 401,392.73 373.2,392.73" fill="#3333ff"/>
<path d="M348.5,454.03L350.65,454.03L350.65,460.48L348.5,460.48ZM352.8,451.07L354.95,451.07L354.95,457.52L352.8,457.52ZM357.1,448.1L359.25,448.1L359.25,454.55L357.1,454.55ZM361.4,445.14L363.55,445.14L363.55,451.59L361.4,451.59ZM365.7,442.18L367.85,442.18L367.85,448.63L365.7,448.63ZM370,439.21L372.15,439.21L372.15,445.66L370,445.66ZM374.3,436.25L376.45,436.25L376.45,442.7L374.3,442.7ZM378.6,436.13L380.75,436.13L380.75,442.58L378.6,442.58ZM382.9,439.69L385.05,439.69L385.05,446.14L382.9,446.14ZM387.2,443.25L389.35,443.25L389.35,449.7L387.2,449.7ZM391.5,446.82L393.65,446.82L393.65,453.27L391.5,453.27ZM395.8,450.38L397.95,450.38L397.95,456.83L395.8,456.83ZM400.1,453.94L402.25,453.94L402.25,460.39L400.1,460.39ZM404.4,457.5L406.55,457.5L406.55,463.95L404.4,463.95ZM408.7,461.07L410.85,461.07L410.85,467.52L408.7,467.52ZM413,464.63L415.15,464.63L415.15,471.08L413,471.08ZM417.3,468.19L419.45,468.19L419.45,474.64L417.3,474.64ZM421.6,471.75L423.75,471.75L423.75,478.2L421.6,478.2ZM425.9,475.32L428.05,475.32L428.05,481.77L425.9,481.77ZM430.2,478.88L432.35,478.88L432.35,485.33L430.2,485.33ZM434.5,482.44L436.65,482.44L436.65,488.89L434.5,488.89ZM438.8,486L440.95,486L440.95,492.45L438.8,492.45ZM443.1,489.57L445.25,489.57L445.25,496.02L443.1,496.02ZM447.4,493.13L449.55,493.13L449.55,499.58L447.4,499.58ZM451.7,496.69L453.85,496.69L453.85,503.14L451.7,503.14ZM456,500.25L458.15,500.25L458.15,506.7L456,506.7ZM460.3,503.82L462.45,503.82L462.45,510.27L460.3,510.27ZM464.6,507.38L466.75,507.38L466.75,513.83L464.6,513.83ZM468.9,510.94L471.05,510.94L471.05,517.39L468.9,517.39ZM473.2,514.5L475.35,514.5L475.35,520.95L473.2,520.95ZM477.5,518.07L479.65,518.07L479.65,524.52L477.5,524.52ZM481.8,521.63L483.95,521.63L483.95,528.08L481.8,528.08ZM486.1,525.19L488.25,525.19L488.25,531.64L486.1,531.64ZM490.4,528.32L491.5,528.32L491.5,534.77L490.4,534.77ZM488.48,532L494.93,532L494.93,533.05L488.48,533.05ZM489.92,535.2L496.37,535.2L496.37,537.35L489.92,537.35ZM491.57,539.5L498.02,539.5L498.02,541.65L491.57,541.65ZM493.23,543.8L499.68,543.8L499.68,545.95L493.23,545.95ZM494.88,548.1L501.33,548.1L501.33,550.25L494.88,550.25ZM496.54,552.4L502.99,552.4L502.99,554.55L496.54,554.55ZM498.19,556.7L504.64,556.7L504.64,558.85L498.19,558.85ZM499.85,561L506.3,561L506.3,563.15L499.85,563.15ZM501.5,565.3L507.95,565.3L507.95,567.45L501.5,567.45ZM503.16,569.6L509.61,569.6L509.61,571.75L503.16,571.75ZM504.81,573.9L511.26,573.9L511.26,576.05L504.81,576.05ZM506.47,578.2L512.92,578.2L512.92,580.35L506.47,580.35ZM508.12,582.5L514.57,582.5L514.57,584.65L508.12,584.65ZM509.78,586.8L516.23,586.8L516.23,588.95L509.78,588.95ZM511.43,591.1L517.88,591.1L517.88,593.25L511.43,593.25ZM513.09,595.4L519.54,595.4L519.54,597.55L513.09,597.55ZM514.74,599.7L521.19,599.7L521.19,601.85L514.74,601.85ZM516.4,604L522.85,604L522.85,606.15L516.4,606.15ZM518.05,608.3L524.5,608.3L524.5,610.45L518.05,610.45ZM519.71,612.6L526.16,612.6L526.16,614.75L519.71,614.75ZM521.36,616.9L527.81,616.9L527.81,619.05L521.36,619.05ZM523.02,621.2L529.47,621.2L529.47,623.35L523.02,623.35ZM524.67,625.5L531.12,625.5L531.12,627.65L524.67,627.65ZM526.33,629.8L532.78,629.8L532.78,631.95L526.33,631.95ZM527.98,634.1L534.43,634.1L534.43,636.25L527.98,636.25ZM529.63,638.4L536.08,638.4L536.08,640.55L529.63,640.55ZM531.29,642.7L537.74,642.7L537.74,644.85L531.29,644.85ZM532.94,647L539.39,647L539.39,649.15L532.94,649.15ZM534.6,651.3L541.05,651.3L541.05,653.45L534.6,653.45ZM536.25,655.6L542.7,655.6L542.7,657.75L536.25,657.75ZM537.91,659.9L544.36,659.9L544.36,662.05L537.91,662.05ZM539.56,664.2L546.01,664.2L546.01,666.35L539.56,666.35ZM541.22,668.5L547.67,668.5L547.67,670.65L541.22,670.65ZM542.87,672.8L549.32,672.8L549.32,674.95L542.87,674.95ZM544.53,677.1L550.98,677.1L550.98,679.25L544.53,679.25ZM546.18,681.4L552.63,681.4L552.63,683.55L546.18,683.55ZM547.84,685.7L554.29,685.7L554.29,687.85L547.84,687.85ZM549.49,690L555.94,690L555.94,692.15L549.49,692.15ZM551.15,694.3L557.6,694.3L557.6,696.45L551.15,696.45ZM552.8,698.6L559.25,698.6L559.25,700.75L552.8,700.75ZM554.46,702.9L560.91,702.9L560.91,705.05L554.46,705.05ZM556.11,707.2L562.56,707.2L562.56,709.35L556.11,709.35ZM557.57,711.5L564.02,711.5L564.02,713.65L557.57,713.65ZM558.89,715.8L565.34,715.8L565.34,717.95L558.89,717.95ZM560.21,720.1L566.66,720.1L566.66,722.25L560.21,722.25ZM561.54,724.4L567.99,724.4L567.99,726.55L561.54,726.55ZM562.86,728.7L569.31,728.7L569.31,730.85L562.86,730.85ZM564.18,733L570.63,733L570.63,735.15L564.18,735.15ZM564.55,731.35L566.7,731.35L566.7,737.8L564.55,737.8ZM560.25,728.76L562.4,728.76L562.4,735.21L560.25,735.21ZM555.95,726.17L558.1,726.17L558.1,732.62L555.95,732.62ZM551.65,723.58L553.8,723.58L553.8,730.03L551.65,730.03ZM547.35,720.99L549.5,720.99L549.5,727.44L547.35,727.44ZM543.05,718.41L545.2,718.41L545.2,724.86L543.05,724.86ZM538.75,715.82L540.9,715.82L540.9,722.27L538.75,722.27ZM534.45,713.23L536.6,713.23L536.6,719.68L534.45,719.68ZM530.15,710.64L532.3,710.64L532.3,717.09L530.15,717.09ZM525.85,708.05L528,708.05L528,714.5L525.85,714.5ZM521.55,705.46L523.7,705.46L523.7,711.91L521.55,711.91ZM517.25,702.88L519.4,702.88L519.4,709.33L517.25,709.33ZM512.95,700.29L515.1,700.29L515.1,706.74L512.95,706.74ZM508.65,697.7L510.8,697.7L510.8,704.15L508.65,704.15ZM504.35,695.11L506.5,695.11L506.5,701.56L504.35,701.56ZM500.05,692.52L502.2,692.52L502.2,698.97L500.05,698.97ZM495.75,689.94L497.9,689.94L497.9,696.39L495.75,696.39ZM491.45,687.35L493.6,687.35L493.6,693.8L491.45,693.8ZM487.15,684.76L489.3,684.76L489.3,691.21L487.15,691.21ZM482.85,682.17L485,682.17L485,688.62L482.85,688.62ZM478.55,679.58L480.7,679.58L480.7,686.03L478.55,686.03ZM474.25,677L476.4,677L476.4,683.45L474.25,683.45ZM469.95,674.41L472.1,674.41L472.1,680.86L469.95,680.86ZM465.65,671.82L467.8,671.82L467.8,678.27L465.65,678.27ZM461.35,669.23L463.5,669.23L463.5,675.68L461.35,675.68ZM457.05,666.64L459.2,666.64L459.2,673.09L457.05,673.09ZM452.75,664.06L454.9,664.06L454.9,670.51L452.75,670.51ZM448.45,661.47L450.6,661.47L450.6,667.92L448.45,667.92ZM444.15,658.88L446.3,658.88L446.3,665.33L444.15,665.33ZM439.85,656.29L442,656.29L442,662.74L439.85,662.74ZM435.55,653.7L437.7,653.7L437.7,660.15L435.55,660.15ZM431.25,651.11L433.4,651.11L433.4,657.56L431.25,657.56ZM426.95,648.53L429.1,648.53L429.1,654.98L426.95,654.98ZM422.65,645.94L424.8,645.94L424.8,652.39L422.65,652.39ZM418.35,643.35L420.5,643.35L420.5,649.8L418.35,649.8ZM414.05,640.76L416.2,640.76L416.2,647.21L414.05,647.21ZM409.75,638.17L411.9,638.17L411.9,644.62L409.75,644.62ZM404.17,636.95L410.62,636.95L410.62,639.1L404.17,639.1ZM401.78,632.65L408.23,632.65L408.23,634.8L401.78,634.8ZM399.38,628.35L405.83,628.35L405.83,630.5L399.38,630.5ZM396.99,624.05L403.44,624.05L403.44,626.2L396.99,626.2ZM394.59,619.75L401.04,619.75L401.04,621.9L394.59,621.9ZM392.2,615.45L398.65,615.45L398.65,617.6L392.2,617.6ZM389.8,611.15L396.25,611.15L396.25,613.3L389.8,613.3ZM387.4,606.85L393.85,606.85L393.85,609L387.4,609ZM385.15,602.55L391.6,602.55L391.6,604.7L385.15,604.7ZM383.21,598.25L389.66,598.25L389.66,600.4L383.21,600.4ZM381.26,593.95L387.71,593.95L387.71,596.1L381.26,596.1ZM379.32,589.65L385.77,589.65L385.77,591.8L379.32,591.8ZM377.37,585.35L383.82,585.35L383.82,587.5L377.37,587.5ZM375.43,581.05L381.88,581.05L381.88,583.2L375.43,583.2ZM373.48,576.75L379.93,576.75L379.93,578.9L373.48,578.9ZM371.55,572.5L378,572.5L378,574.6L371.55,574.6ZM371.07,572.45L377.52,572.45L377.52,572.5L371.07,572.5ZM370.09,568.15L376.54,568.15L376.54,570.3L370.09,570.3ZM368.79,563.85L375.24,563.85L375.24,566L368.79,566ZM367.49,559.55L373.94,559.55L373.94,561.7L367.49,561.7ZM366.2,555.25L372.65,555.25L372.65,557.4L366.2,557.4ZM364.9,550.95L371.35,550.95L371.35,553.1L364.9,553.1ZM363.6,546.65L370.05,546.65L370.05,548.8L363.6,548.8ZM362.31,542.35L368.76,542.35L368.76,544.5L362.31,544.5ZM361.31,540L367.76,540L367.76,540.2L361.31,540.2ZM361.09,538.05L367.54,538.05L367.54,540L361.09,540ZM360.3,533.75L366.75,533.75L366.75,535.9L360.3,535.9ZM359.49,529.45L365.94,529.45L365.94,531.6L359.49,531.6ZM358.67,525.15L365.12,525.15L365.12,527.3L358.67,527.3ZM357.86,520.85L364.31,520.85L364.31,523L357.86,523ZM357.05,516.55L363.5,516.55L363.5,518.7L357.05,518.7ZM356.24,512.25L362.69,512.25L362.69,514.4L356.24,514.4ZM355.42,507.95L361.87,507.95L361.87,510.1L355.42,510.1ZM354.61,503.65L361.06,503.65L361.06,505.8L354.61,505.8ZM353.8,499.35L360.25,499.35L360.25,501.5L353.8,501.5ZM352.99,495.05L359.44,495.05L359.44,497.2L352.99,497.2ZM352.13,490.75L358.58,490.75L358.58,492.9L352.13,492.9ZM351.26,486.45L357.71,486.45L357.71,488.6L351.26,488.6ZM350.39,482.15L356.84,482.15L356.84,484.3L350.39,484.3ZM349.52,477.85L355.97,477.85L355.97,480L349.52,480ZM348.64,473.55L355.09,473.55L355.09,475.7L348.64,475.7ZM347.77,469.25L354.22,469.25L354.22,471.4L347.77,471.4ZM346.9,464.95L353.35,464.95L353.35,467.1L346.9,467.1ZM346.03,460.65L352.48,460.65L352.48,462.8L346.03,462.8ZM345.33,458L351.78,458L351.78,458.5L345.33,458.5Z" fill="#ff00ff" clip-path="url(#plotclip)"/>
<g fill="#000">
<rect x="216.3" y="165.7" width="1360.5" height="6.3"/>
<rect x="216.3" y="1401.1" width="1360.5" height="6.65"/>
<rect x="216.3" y="165.7" width="6.6" height="1242.05"/>
<rect x="1570.2" y="165.7" width="6.6" height="1242.05"/>
<rect x="272.61" y="1386.1" width="2.3" height="18.3"/>
<rect x="326.76" y="1386.1" width="2.3" height="18.3"/>
<rect x="380.92" y="1386.1" width="2.3" height="18.3"/>
<rect x="435.07" y="1386.1" width="2.3" height="18.3"/>
<rect x="487.18" y="1373.9" width="6.4" height="30.5"/>
<rect x="543.39" y="1386.1" width="2.3" height="18.3"/>
<rect x="597.54" y="1386.1" width="2.3" height="18.3"/>
<rect x="651.7" y="1386.1" width="2.3" height="18.3"/>
<rect x="705.85" y="1386.1" width="2.3" height="18.3"/>
<rect x="757.96" y="1373.9" width="6.4" height="30.5"/>
<rect x="814.17" y="1386.1" width="2.3" height="18.3"/>
<rect x="868.32" y="1386.1" width="2.3" height="18.3"/>
<rect x="922.48" y="1386.1" width="2.3" height="18.3"/>
<rect x="976.63" y="1386.1" width="2.3" height="18.3"/>
<rect x="1028.74" y="1373.9" width="6.4" height="30.5"/>
<rect x="1084.95" y="1386.1" width="2.3" height="18.3"/>
<rect x="1139.1" y="1386.1" width="2.3" height="18.3"/>
<rect x="1193.26" y="1386.1" width="2.3" height="18.3"/>
<rect x="1247.41" y="1386.1" width="2.3" height="18.3"/>
<rect x="1299.52" y="1373.9" width="6.4" height="30.5"/>
<rect x="1355.73" y="1386.1" width="2.3" height="18.3"/>
<rect x="1409.88" y="1386.1" width="2.3" height="18.3"/>
<rect x="1464.04" y="1386.1" width="2.3" height="18.3"/>
<rect x="1518.19" y="1386.1" width="2.3" height="18.3"/>
<rect x="219.6" y="455.61" width="18.3" height="2.3"/>
<rect x="219.6" y="383.09" width="18.3" height="2.3"/>
<rect x="219.6" y="331.63" width="18.3" height="2.3"/>
<rect x="219.6" y="291.72" width="18.3" height="2.3"/>
<rect x="219.6" y="259.11" width="18.3" height="2.3"/>
<rect x="219.6" y="231.54" width="18.3" height="2.3"/>
<rect x="219.6" y="207.66" width="18.3" height="2.3"/>
<rect x="219.6" y="186.59" width="18.3" height="2.3"/>
<rect x="219.6" y="577.53" width="30.5" height="6.4"/>
<rect x="219.6" y="867.44" width="18.3" height="2.3"/>
<rect x="219.6" y="794.92" width="18.3" height="2.3"/>
<rect x="219.6" y="743.47" width="18.3" height="2.3"/>
<rect x="219.6" y="703.56" width="18.3" height="2.3"/>
<rect x="219.6" y="670.95" width="18.3" height="2.3"/>
<rect x="219.6" y="643.38" width="18.3" height="2.3"/>
<rect x="219.6" y="619.49" width="18.3" height="2.3"/>
<rect x="219.6" y="598.43" width="18.3" height="2.3"/>
<rect x="219.6" y="989.37" width="30.5" height="6.4"/>
<rect x="219.6" y="1279.28" width="18.3" height="2.3"/>
<rect x="219.6" y="1206.76" width="18.3" height="2.3"/>
<rect x="219.6" y="1155.3" width="18.3" height="2.3"/>
<rect x="219.6" y="1115.39" width="18.3" height="2.3"/>
<rect x="219.6" y="1082.78" width="18.3" height="2.3"/>
<rect x="219.6" y="1055.21" width="18.3" height="2.3"/>
<rect x="219.6" y="1031.33" width="18.3" height="2.3"/>
<rect x="219.6" y="1010.26" width="18.3" height="2.3"/>
</g>
<g font-family="'Liberation Serif', serif" fill="#000" stroke="#000" stroke-width="0.5">
<text x="218.6" y="1463.4" font-size="63" text-anchor="middle">0.05</text>
<text x="489.38" y="1463.4" font-size="63" text-anchor="middle">0.1</text>
<text x="760.16" y="1463.4" font-size="63" text-anchor="middle">0.15</text>
<text x="1030.94" y="1463.4" font-size="63" text-anchor="middle">0.2</text>
<text x="1301.72" y="1463.4" font-size="63" text-anchor="middle">0.25</text>
<text x="1572.5" y="1463.4" font-size="63" text-anchor="middle">0.3</text>
<rect x="91" y="1368.4" width="116" height="57.5" fill="#fff" stroke="none"/>
<text x="87" y="189.5" font-size="63">10<tspan x="148.6" dy="-30.1" font-size="38">-12</tspan></text>
<text x="87" y="601.33" font-size="63">10<tspan x="148.6" dy="-30.1" font-size="38">-13</tspan></text>
<text x="87" y="1013.17" font-size="63">10<tspan x="148.6" dy="-30.1" font-size="38">-14</tspan></text>
<text x="87" y="1425" font-size="63">10<tspan x="148.6" dy="-30.1" font-size="38">-15</tspan></text>
</g>
<g font-family="'Liberation Serif', serif" font-weight="bold" fill="#000">
<text x="896.5" y="1542.7" font-size="64" text-anchor="middle">T<tspan dy="-30" font-size="38.4">-1/3</tspan><tspan dy="30">/K</tspan><tspan dy="-30" font-size="38.4">-1/3</tspan></text>
<text transform="translate(74.1,786) rotate(-90)" font-size="64" text-anchor="middle">k (0,1|1,0)/cm<tspan dy="-30" font-size="38.4">3</tspan><tspan dy="30">/s</tspan></text>
</g>
<rect x="757.9" y="27.1" width="970.2" height="504.2" fill="#fff" stroke="#000" stroke-width="2.2"/>
<g shape-rendering="crispEdges">
<path d="M776,86.38L993,86.38L993,92.82L776,92.82Z" fill="#cc0000"/>
<path d="M776,144.47L788.9,144.47L788.9,150.92L776,150.92ZM793.2,144.47L806.1,144.47L806.1,150.92L793.2,150.92ZM810.4,144.47L823.3,144.47L823.3,150.92L810.4,150.92ZM827.6,144.47L840.5,144.47L840.5,150.92L827.6,150.92ZM844.8,144.47L857.7,144.47L857.7,150.92L844.8,150.92ZM862,144.47L874.9,144.47L874.9,150.92L862,150.92ZM879.2,144.47L892.1,144.47L892.1,150.92L879.2,150.92ZM896.4,144.47L909.3,144.47L909.3,150.92L896.4,150.92ZM913.6,144.47L926.5,144.47L926.5,150.92L913.6,150.92ZM930.8,144.47L943.7,144.47L943.7,150.92L930.8,150.92ZM948,144.47L960.9,144.47L960.9,150.92L948,150.92ZM965.2,144.47L978.1,144.47L978.1,150.92L965.2,150.92ZM982.4,144.47L993,144.47L993,150.92L982.4,150.92Z" fill="#000000"/>
<path d="M776,202.28L782.45,202.28L782.45,208.72L776,208.72ZM786.75,202.28L788.9,202.28L788.9,208.72L786.75,208.72ZM793.2,202.28L799.65,202.28L799.65,208.72L793.2,208.72ZM803.95,202.28L806.1,202.28L806.1,208.72L803.95,208.72ZM810.4,202.28L816.85,202.28L816.85,208.72L810.4,208.72ZM821.15,202.28L823.3,202.28L823.3,208.72L821.15,208.72ZM827.6,202.28L834.05,202.28L834.05,208.72L827.6,208.72ZM838.35,202.28L840.5,202.28L840.5,208.72L838.35,208.72ZM844.8,202.28L851.25,202.28L851.25,208.72L844.8,208.72ZM855.55,202.28L857.7,202.28L857.7,208.72L855.55,208.72ZM862,202.28L868.45,202.28L868.45,208.72L862,208.72ZM872.75,202.28L874.9,202.28L874.9,208.72L872.75,208.72ZM879.2,202.28L885.65,202.28L885.65,208.72L879.2,208.72ZM889.95,202.28L892.1,202.28L892.1,208.72L889.95,208.72ZM896.4,202.28L902.85,202.28L902.85,208.72L896.4,208.72ZM907.15,202.28L909.3,202.28L909.3,208.72L907.15,208.72ZM913.6,202.28L920.05,202.28L920.05,208.72L913.6,208.72ZM924.35,202.28L926.5,202.28L926.5,208.72L924.35,208.72ZM930.8,202.28L937.25,202.28L937.25,208.72L930.8,208.72ZM941.55,202.28L943.7,202.28L943.7,208.72L941.55,208.72ZM948,202.28L954.45,202.28L954.45,208.72L948,208.72ZM958.75,202.28L960.9,202.28L960.9,208.72L958.75,208.72ZM965.2,202.28L971.65,202.28L971.65,208.72L965.2,208.72ZM975.95,202.28L978.1,202.28L978.1,208.72L975.95,208.72ZM982.4,202.28L988.85,202.28L988.85,208.72L982.4,208.72Z" fill="#cc0000"/>
</g>
<circle cx="884.6" cy="205.5" r="16.4" fill="#cc0000"/>
<g shape-rendering="crispEdges">
<path d="M776,259.97L782.45,259.97L782.45,266.43L776,266.43ZM786.75,259.97L788.9,259.97L788.9,266.43L786.75,266.43ZM793.2,259.97L799.65,259.97L799.65,266.43L793.2,266.43ZM803.95,259.97L806.1,259.97L806.1,266.43L803.95,266.43ZM810.4,259.97L816.85,259.97L816.85,266.43L810.4,266.43ZM821.15,259.97L823.3,259.97L823.3,266.43L821.15,266.43ZM827.6,259.97L834.05,259.97L834.05,266.43L827.6,266.43ZM838.35,259.97L840.5,259.97L840.5,266.43L838.35,266.43ZM844.8,259.97L851.25,259.97L851.25,266.43L844.8,266.43ZM855.55,259.97L857.7,259.97L857.7,266.43L855.55,266.43ZM862,259.97L868.45,259.97L868.45,266.43L862,266.43ZM872.75,259.97L874.9,259.97L874.9,266.43L872.75,266.43ZM879.2,259.97L885.65,259.97L885.65,266.43L879.2,266.43ZM889.95,259.97L892.1,259.97L892.1,266.43L889.95,266.43ZM896.4,259.97L902.85,259.97L902.85,266.43L896.4,266.43ZM907.15,259.97L909.3,259.97L909.3,266.43L907.15,266.43ZM913.6,259.97L920.05,259.97L920.05,266.43L913.6,266.43ZM924.35,259.97L926.5,259.97L926.5,266.43L924.35,266.43ZM930.8,259.97L937.25,259.97L937.25,266.43L930.8,266.43ZM941.55,259.97L943.7,259.97L943.7,266.43L941.55,266.43ZM948,259.97L954.45,259.97L954.45,266.43L948,266.43ZM958.75,259.97L960.9,259.97L960.9,266.43L958.75,266.43ZM965.2,259.97L971.65,259.97L971.65,266.43L965.2,266.43ZM975.95,259.97L978.1,259.97L978.1,266.43L975.95,266.43ZM982.4,259.97L988.85,259.97L988.85,266.43L982.4,266.43Z" fill="#000000"/>
</g>
<polygon points="884.6,240.95 903,272.82 866.2,272.82" fill="#000000"/>
<g shape-rendering="crispEdges">
<rect x="870.9" y="305.1" width="25.8" height="25.8" fill="#00cc00"/>
</g>
<polygon points="883.7,360.5 901,376.8 883.7,393.1 866.4,376.8" fill="#ff5500"/>
<polygon points="884.6,418.65 898.5,442.73 870.7,442.73" fill="#3333ff"/>
<path d="M776,489.47L778.15,489.47L778.15,495.93L776,495.93ZM780.3,489.47L782.45,489.47L782.45,495.93L780.3,495.93ZM784.6,489.47L786.75,489.47L786.75,495.93L784.6,495.93ZM788.9,489.47L791.05,489.47L791.05,495.93L788.9,495.93ZM793.2,489.47L795.35,489.47L795.35,495.93L793.2,495.93ZM797.5,489.47L799.65,489.47L799.65,495.93L797.5,495.93ZM801.8,489.47L803.95,489.47L803.95,495.93L801.8,495.93ZM806.1,489.47L808.25,489.47L808.25,495.93L806.1,495.93ZM810.4,489.47L812.55,489.47L812.55,495.93L810.4,495.93ZM814.7,489.47L816.85,489.47L816.85,495.93L814.7,495.93ZM819,489.47L821.15,489.47L821.15,495.93L819,495.93ZM823.3,489.47L825.45,489.47L825.45,495.93L823.3,495.93ZM827.6,489.47L829.75,489.47L829.75,495.93L827.6,495.93ZM831.9,489.47L834.05,489.47L834.05,495.93L831.9,495.93ZM836.2,489.47L838.35,489.47L838.35,495.93L836.2,495.93ZM840.5,489.47L842.65,489.47L842.65,495.93L840.5,495.93ZM844.8,489.47L846.95,489.47L846.95,495.93L844.8,495.93ZM849.1,489.47L851.25,489.47L851.25,495.93L849.1,495.93ZM853.4,489.47L855.55,489.47L855.55,495.93L853.4,495.93ZM857.7,489.47L859.85,489.47L859.85,495.93L857.7,495.93ZM862,489.47L864.15,489.47L864.15,495.93L862,495.93ZM866.3,489.47L868.45,489.47L868.45,495.93L866.3,495.93ZM870.6,489.47L872.75,489.47L872.75,495.93L870.6,495.93ZM874.9,489.47L877.05,489.47L877.05,495.93L874.9,495.93ZM879.2,489.47L881.35,489.47L881.35,495.93L879.2,495.93ZM883.5,489.47L885.65,489.47L885.65,495.93L883.5,495.93ZM887.8,489.47L889.95,489.47L889.95,495.93L887.8,495.93ZM892.1,489.47L894.25,489.47L894.25,495.93L892.1,495.93ZM896.4,489.47L898.55,489.47L898.55,495.93L896.4,495.93ZM900.7,489.47L902.85,489.47L902.85,495.93L900.7,495.93ZM905,489.47L907.15,489.47L907.15,495.93L905,495.93ZM909.3,489.47L911.45,489.47L911.45,495.93L909.3,495.93ZM913.6,489.47L915.75,489.47L915.75,495.93L913.6,495.93ZM917.9,489.47L920.05,489.47L920.05,495.93L917.9,495.93ZM922.2,489.47L924.35,489.47L924.35,495.93L922.2,495.93ZM926.5,489.47L928.65,489.47L928.65,495.93L926.5,495.93ZM930.8,489.47L932.95,489.47L932.95,495.93L930.8,495.93ZM935.1,489.47L937.25,489.47L937.25,495.93L935.1,495.93ZM939.4,489.47L941.55,489.47L941.55,495.93L939.4,495.93ZM943.7,489.47L945.85,489.47L945.85,495.93L943.7,495.93ZM948,489.47L950.15,489.47L950.15,495.93L948,495.93ZM952.3,489.47L954.45,489.47L954.45,495.93L952.3,495.93ZM956.6,489.47L958.75,489.47L958.75,495.93L956.6,495.93ZM960.9,489.47L963.05,489.47L963.05,495.93L960.9,495.93ZM965.2,489.47L967.35,489.47L967.35,495.93L965.2,495.93ZM969.5,489.47L971.65,489.47L971.65,495.93L969.5,495.93ZM973.8,489.47L975.95,489.47L975.95,495.93L973.8,495.93ZM978.1,489.47L980.25,489.47L980.25,495.93L978.1,495.93ZM982.4,489.47L984.55,489.47L984.55,495.93L982.4,495.93ZM986.7,489.47L988.85,489.47L988.85,495.93L986.7,495.93ZM991,489.47L993,489.47L993,495.93L991,495.93Z" fill="#ff00ff"/>
<g font-family="'Liberation Serif', serif" font-weight="bold" font-size="48" fill="#000">
<text x="1028" y="103" textLength="399.8" lengthAdjust="spacing">QC (modified PES)</text>
<text x="1028" y="161.5">QC (original PES)</text>
<text x="1028" y="219.6" textLength="432.4" lengthAdjust="spacing">QCT (modified PES)</text>
<text x="1028" y="277.6">QCT (original PES)</text>
<text x="1029.4" y="334.5">Expt. (Allen et al. 1980)</text>
<text x="1029.4" y="392.5">Expt. (Mastrocinque et al. 1976)</text>
<text x="1029.4" y="450.6">Expt. (Sato et al. 1969)</text>
<text x="1029.4" y="508.6">Expt. (von Rosenberg et al. 1972)</text>
</g>
</svg>
</body>
</html>
